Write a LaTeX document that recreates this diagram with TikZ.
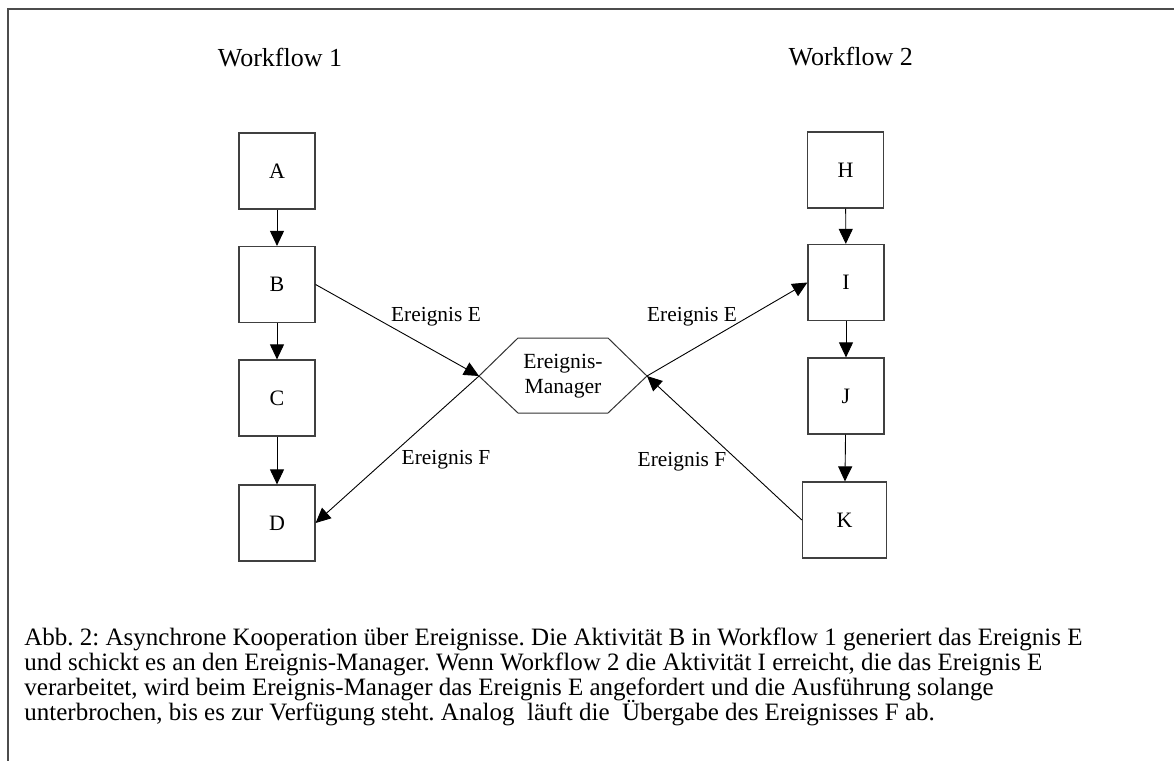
\documentclass[tikz,border=0pt]{standalone}
\usepackage{fontspec}
\setmainfont{Liberation Serif}
\usetikzlibrary{arrows.meta}
\frenchspacing

\begin{document}
\begin{tikzpicture}[x=0.5pt, y=-0.5pt,
    act/.style={draw=black!75, line width=0.6pt, minimum width=38pt, minimum height=38pt, inner sep=0pt, font=\fontsize{11}{13}\selectfont},
    flow/.style={-{Triangle[length=7.5pt,width=7pt]}, line width=0.45pt},
    evt/.style={font=\fontsize{10.7}{12}\selectfont, inner sep=0pt},
    title/.style={font=\fontsize{13}{15}\selectfont, anchor=base, inner sep=0pt}]
    \useasboundingbox (0,0) rectangle (1174,761);
    \draw[black!70, line width=1pt] (1174,9) -- (8,9) -- (8,761);

    \node[title] (wf1) at (280,66.7) {Workflow 1};
    \node[title] (wf2) at (850.7,65) {Workflow 2};

    \node[act] (A) at (277,171) {A};
    \node[act] (B) at (277,284.5) {B};
    \node[act] (C) at (277,398) {C};
    \node[act] (D) at (277,523) {D};

    \node[act] (H) at (845.5,170) {H};
    \node[act] (I) at (846,282.5) {I};
    \node[act] (J) at (846,396) {J};
    \node[act, minimum width=42pt] (K) at (844.5,520) {K};

    \coordinate (mgrL) at (479,376);
    \coordinate (mgrR) at (647,376);
    \draw[black!80, line width=0.5pt] (mgrL) -- (518,338) -- (608,338) -- (mgrR) -- (608,413) -- (518,413) -- cycle;
    \node[align=center, font=\fontsize{10.8}{12.5}\selectfont, inner sep=0pt] (mgr) at (563,376) {Ereignis-\\Manager};

    \draw[flow] (A) -- (B);
    \draw[flow] (B) -- (C);
    \draw[flow] (C) -- (D);
    \draw[flow] (H) -- (I);
    \draw[flow] (I) -- (J);
    \draw[flow] (J) -- (K);

    \draw[flow] (B.east) -- (mgrL);
    \draw[flow] (mgrL) -- (D.east);
    \draw[flow] (mgrR) -- (I.west);
    \draw[flow] (K.west) -- (mgrR);

    \node[evt] (e1) at (436,317) {Ereignis E};
    \node[evt] (f1) at (446,460) {Ereignis F};
    \node[evt] (e2) at (692,317) {Ereignis E};
    \node[evt] (f2) at (682,462) {Ereignis F};

    \node[anchor=north west, align=left, inner sep=0pt, font={\fontsize{12.5}{12.6}\selectfont\lineskiplimit=-20pt}] (cap) at (24,627)
        {Abb. 2: Asynchrone Kooperation über Ereignisse. Die Aktivität B in Workflow 1 generiert das Ereignis E\\
         und schickt es an den Ereignis-Manager. Wenn Workflow 2 die Aktivität I erreicht, die das Ereignis E\\
         verarbeitet, wird beim Ereignis-Manager das Ereignis E angefordert und die Ausführung solange\\
         unterbrochen, bis es zur Verfügung steht. Analog\ \ läuft die\ \ Übergabe des Ereignisses F ab.};
\end{tikzpicture}
\end{document}
